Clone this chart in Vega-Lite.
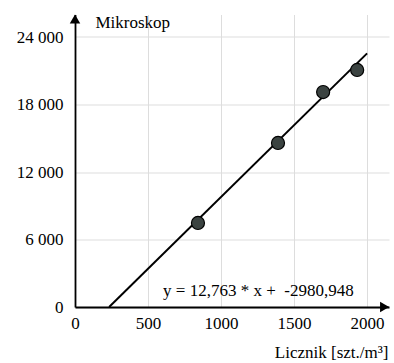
{
  "$schema": "https://vega.github.io/schema/vega-lite/v6.json",
  "autosize": "none",
  "padding": {"left": 75, "top": 14.5, "right": 5, "bottom": 56},
  "width": 314,
  "height": 292.5,
  "config": {
    "view": {"stroke": null},
    "font": "Liberation Serif",
    "axis": {"labelFont": "Liberation Serif", "titleFont": "Liberation Serif", "labelColor": "black", "titleColor": "black", "titleFontWeight": "normal", "labelFontSize": 17, "titleFontSize": 17}
  },
  "datasets": {
    "points": [
      {"licznik": 842, "mikroskop": 7470},
      {"licznik": 1390, "mikroskop": 14580},
      {"licznik": 1699, "mikroskop": 19110},
      {"licznik": 1932, "mikroskop": 21070}
    ],
    "fit": [
      {"licznik": 233.6, "mikroskop": 0},
      {"licznik": 2000, "mikroskop": 22545}
    ],
    "eq": [
      {"licznik": 603, "mikroskop": 980, "text": "y = 12,763 * x + \u00a0-2980,948"}
    ],
    "arrows": [
      {"licznik": 0, "mikroskop": 25600, "shape": "triangle-up"},
      {"licznik": 2120, "mikroskop": 0, "shape": "triangle-right"}
    ]
  },
  "layer": [
    {
      "data": {"name": "fit"},
      "mark": {"type": "line", "color": "black", "strokeWidth": 2},
      "encoding": {
        "x": {
          "field": "licznik", "type": "quantitative",
          "scale": {"domain": [0, 2150], "nice": false, "zero": false},
          "axis": {
            "values": [0, 500, 1000, 1500, 2000],
            "format": "d",
            "ticks": false,
            "domainColor": "black", "domainWidth": 1.8,
            "gridColor": "#dddddd", "gridWidth": 1,
            "labelPadding": 8,
            "labelFlush": false,
            "title": "Licznik [szt./m³]",
            "titleAnchor": "end", "titleAlign": "right",
            "titleX": 313, "titleY": 50, "titleBaseline": "alphabetic"
          }
        },
        "y": {
          "field": "mikroskop", "type": "quantitative",
          "scale": {"domain": [0, 26000], "nice": false, "zero": false},
          "axis": {
            "values": [0, 6000, 12000, 18000, 24000],
            "ticks": false,
            "domainColor": "black", "domainWidth": 1.8,
            "gridColor": "#dddddd", "gridWidth": 1,
            "labelPadding": 12,
            "labelFlush": false,
            "labelExpr": "replace(format(datum.value, ','), ',', ' ')",
            "title": "Mikroskop",
            "titleAngle": 0, "titleAlign": "left",
            "titleX": 20, "titleY": 13, "titleBaseline": "alphabetic"
          }
        }
      }
    },
    {
      "data": {"name": "points"},
      "mark": {"type": "point", "shape": "circle", "filled": true, "fill": "#3b4341", "stroke": "black", "strokeWidth": 1.2, "size": 170, "opacity": 1},
      "encoding": {
        "x": {"field": "licznik", "type": "quantitative"},
        "y": {"field": "mikroskop", "type": "quantitative"}
      }
    },
    {
      "data": {"name": "eq"},
      "mark": {"type": "text", "align": "left", "baseline": "alphabetic", "fontSize": 17, "font": "Liberation Serif", "color": "black"},
      "encoding": {
        "x": {"field": "licznik", "type": "quantitative"},
        "y": {"field": "mikroskop", "type": "quantitative"},
        "text": {"field": "text"}
      }
    },
    {
      "data": {"name": "arrows"},
      "mark": {"type": "point", "filled": true, "color": "black", "size": 110, "opacity": 1},
      "encoding": {
        "x": {"field": "licznik", "type": "quantitative"},
        "y": {"field": "mikroskop", "type": "quantitative"},
        "shape": {"field": "shape", "type": "nominal", "scale": null}
      }
    }
  ]
}
